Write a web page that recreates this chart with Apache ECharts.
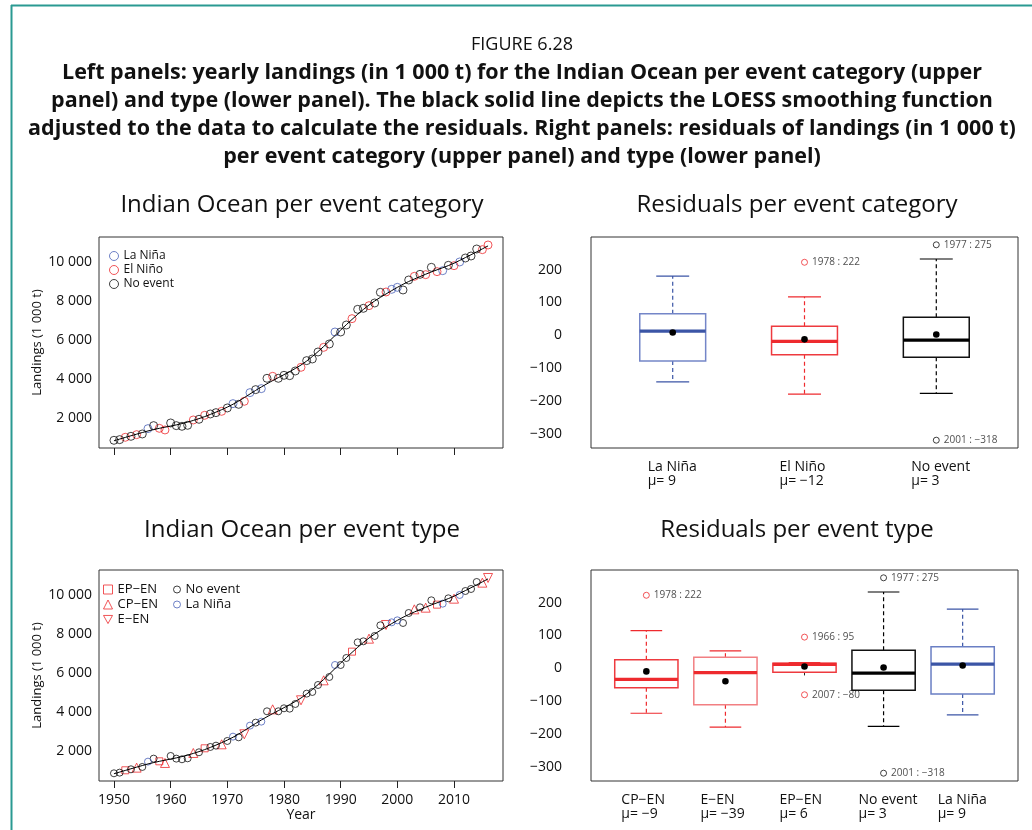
<!DOCTYPE html>
<html>
<head>
<meta charset="utf-8">
<script src="https://cdn.jsdelivr.net/npm/echarts@6/dist/echarts.min.js"></script>
<style>
  html, body { margin: 0; background: #fff; }
  #main { width: 1032px; height: 830px; }
</style>
</head>
<body>
<div id="main"></div>
<script>
// ---- data ----
var years = [1950, 1951, 1952, 1953, 1954, 1955, 1956, 1957, 1958, 1959,
  1960, 1961, 1962, 1963, 1964, 1965, 1966, 1967, 1968, 1969,
  1970, 1971, 1972, 1973, 1974, 1975, 1976, 1977, 1978, 1979,
  1980, 1981, 1982, 1983, 1984, 1985, 1986, 1987, 1988, 1989,
  1990, 1991, 1992, 1993, 1994, 1995, 1996, 1997, 1998, 1999,
  2000, 2001, 2002, 2003, 2004, 2005, 2006, 2007, 2008, 2009,
  2010, 2011, 2012, 2013, 2014, 2015, 2016];
var landings = [855, 889, 1009, 1060, 1145, 1180, 1453, 1607, 1470, 1385,
  1744, 1607, 1573, 1624, 1897, 1932, 2137, 2205, 2273, 2342,
  2513, 2735, 2700, 2855, 3300, 3453, 3504, 4034, 4136, 4034,
  4188, 4170, 4410, 4598, 4940, 5025, 5384, 5623, 5794, 6409,
  6409, 6768, 7093, 7571, 7623, 7759, 7896, 8443, 8460, 8597,
  8699, 8563, 9075, 9263, 9366, 9349, 9725, 9503, 9554, 9828,
  9810, 10000, 10203, 10306, 10665, 10631, 10870];
// L = La Niña, E = El Niño, N = no event
var eventCategory = ['N', 'N', 'E', 'N', 'E', 'N', 'L', 'N', 'E', 'E',
  'N', 'N', 'N', 'N', 'E', 'N', 'E', 'N', 'N', 'E',
  'N', 'L', 'N', 'E', 'L', 'N', 'L', 'N', 'E', 'N',
  'N', 'N', 'N', 'E', 'N', 'N', 'N', 'E', 'N', 'L',
  'N', 'N', 'E', 'N', 'N', 'E', 'N', 'N', 'E', 'L',
  'L', 'N', 'N', 'E', 'N', 'E', 'N', 'E', 'L', 'N',
  'E', 'L', 'N', 'N', 'N', 'E', 'E'];
// EP / CP / E = El Niño type
var eventType = ['N', 'N', 'EP', 'N', 'CP', 'N', 'L', 'N', 'EP', 'CP',
  'N', 'N', 'N', 'N', 'CP', 'N', 'EP', 'N', 'N', 'CP',
  'N', 'L', 'N', 'E', 'L', 'N', 'L', 'N', 'CP', 'N',
  'N', 'N', 'N', 'E', 'N', 'N', 'N', 'CP', 'N', 'L',
  'N', 'N', 'EP', 'N', 'N', 'CP', 'N', 'N', 'E', 'L',
  'L', 'N', 'N', 'CP', 'N', 'CP', 'N', 'EP', 'L', 'N',
  'CP', 'L', 'N', 'N', 'N', 'CP', 'E'];

var yearTicks = [1950, 1960, 1970, 1980, 1990, 2000, 2010];
var landingTicks = [2000, 4000, 6000, 8000, 10000];
var residualTicks = [-300, -200, -100, 0, 100, 200];

// residual boxplots per event category
var catNames = ['La Niña', 'El Niño', 'No event'];
var catLow = [-141, -178, -176];
var catQ1 = [-78, -59, -66];
var catMedian = [13, -18, -14];
var catQ3 = [66, 28, 55];
var catHigh = [180, 117, 232];
var catMean = [9, -12, 3];
var catOutlierGroup = [2, 3, 3];
var catOutlierYear = [1978, 1977, 2001];
var catOutlierValue = [222, 275, -318];

// residual boxplots per event type
var typeNames = ['CP−EN', 'E−EN', 'EP−EN', 'No event', 'La Niña'];
var typeLow = [-136, -178, -12, -176, -141];
var typeQ1 = [-59, -110, -12, -66, -78];
var typeMedian = [-33, -13, 12, -14, 13];
var typeQ3 = [26, 34, 16, 55, 66];
var typeHigh = [115, 53, 18, 232, 180];
var typeMean = [-9, -39, 6, 3, 9];
var typeOutlierGroup = [1, 3, 3, 4, 4];
var typeOutlierYear = [1978, 1966, 2007, 1977, 2001];
var typeOutlierValue = [222, 95, -80, 275, -318];

// ---- styling ----
var BLUE = '#4a62b8';
var RED = '#ee2a2e';
var BLACK = '#111';
var FONT = 'Open Sans';
var CLEAR = 'rgba(255,255,255,0)';
var DOWN_TRIANGLE = 'path://M0,0 L10,0 L5,9 Z';

function minus(v) { return v < 0 ? '\u2212' + Math.abs(v) : '' + v; }

// local linear LOESS (tricube weights)
function loess(xs, ys, span) {
  var n = xs.length, r = Math.ceil(span * n), out = [];
  for (var i = 0; i < n; i++) {
    var d = xs.map(function (x) { return Math.abs(x - xs[i]); });
    var h = d.slice().sort(function (a, b) { return a - b; })[r - 1] * 1.0001;
    var sw = 0, sx = 0, sy = 0, sxx = 0, sxy = 0;
    for (var j = 0; j < n; j++) {
      var u = d[j] / h;
      if (u >= 1) continue;
      var w = Math.pow(1 - u * u * u, 3);
      sw += w; sx += w * xs[j]; sy += w * ys[j];
      sxx += w * xs[j] * xs[j]; sxy += w * xs[j] * ys[j];
    }
    var mx = sx / sw, my = sy / sw;
    var b = (sxy - sw * mx * my) / (sxx - sw * mx * mx);
    out.push([xs[i], my + b * (xs[i] - mx)]);
  }
  return out;
}
var fitted = loess(years, landings, 0.2);

function pick(codes, code) {
  var pts = [];
  for (var i = 0; i < years.length; i++) {
    if (codes[i] === code) pts.push([years[i], landings[i]]);
  }
  return pts;
}

// R-style boxplot drawn with a custom series
function boxRenderer(boxWidth, boxColors, medianColors) {
  return function (params, api) {
    var i = params.dataIndex;
    var x = api.value(0);
    var lw = api.value(1), q1 = api.value(2), md = api.value(3),
        q3 = api.value(4), uw = api.value(5), mn = api.value(6);
    var tl = api.coord([x - boxWidth / 2, q3]);
    var br = api.coord([x + boxWidth / 2, q1]);
    var cx = api.coord([x, md])[0];
    var cap = api.size([boxWidth / 4, 0])[0];
    var yMd = api.coord([x, md])[1];
    var yUw = api.coord([x, uw])[1];
    var yLw = api.coord([x, lw])[1];
    var pMn = api.coord([x, mn]);
    var bc = boxColors[i], mc = medianColors[i];
    return {
      type: 'group',
      children: [
        { type: 'line', shape: { x1: cx, y1: tl[1], x2: cx, y2: yUw },
          style: { stroke: mc, lineWidth: 1.2, lineDash: [4, 3] } },
        { type: 'line', shape: { x1: cx, y1: br[1], x2: cx, y2: yLw },
          style: { stroke: mc, lineWidth: 1.2, lineDash: [4, 3] } },
        { type: 'line', shape: { x1: cx - cap, y1: yUw, x2: cx + cap, y2: yUw },
          style: { stroke: mc, lineWidth: 1.2 } },
        { type: 'line', shape: { x1: cx - cap, y1: yLw, x2: cx + cap, y2: yLw },
          style: { stroke: mc, lineWidth: 1.2 } },
        { type: 'rect', shape: { x: tl[0], y: tl[1], width: br[0] - tl[0], height: br[1] - tl[1] },
          style: { fill: '#fff', stroke: bc, lineWidth: 1.5 } },
        { type: 'line', shape: { x1: tl[0], y1: yMd, x2: br[0], y2: yMd },
          style: { stroke: mc, lineWidth: 3.2 } },
        { type: 'circle', shape: { cx: pMn[0], cy: pMn[1], r: 3.3 },
          style: { fill: '#000' } }
      ]
    };
  };
}

function boxData(low, q1, med, q3, high, mean) {
  return low.map(function (v, i) { return [i + 1, v, q1[i], med[i], q3[i], high[i], mean[i]]; });
}
function outlierData(groups, yrs, vals, colors) {
  return vals.map(function (v, i) {
    return { value: [groups[i], v], name: yrs[i] + ' : ' + minus(v),
      itemStyle: { color: CLEAR, borderColor: colors[groups[i] - 1], borderWidth: 1 } };
  });
}

var dom = document.getElementById('main');
var myChart = echarts.init(dom);

var textBase = { fontFamily: FONT, color: '#111' };

var catColors = [BLUE, RED, BLACK];
var typeColors = [RED, RED, RED, BLACK, BLUE];

function catLabel(names, means) {
  return function (v) {
    var i = Math.round(v) - 1;
    return '{a|' + names[i] + '}\n{a|μ= ' + minus(means[i]) + '}';
  };
}

var leftX = function (grid, showLabels) {
  return {
    gridIndex: grid, type: 'value', min: 1947.36, max: 2018.64,
    axisLine: { show: false }, splitLine: { show: false },
    axisTick: { show: true, length: 7, customValues: yearTicks, lineStyle: { color: '#222' } },
    axisLabel: { show: showLabels, customValues: yearTicks, margin: 12, fontSize: 14, fontFamily: FONT, color: '#111',
      formatter: function (v) { return '' + v; } },
    name: showLabels ? 'Year' : '', nameLocation: 'middle', nameGap: 27,
    nameTextStyle: { fontSize: 14, fontFamily: FONT, color: '#111' }
  };
};
var leftY = function (grid) {
  return {
    gridIndex: grid, type: 'value', min: 460, max: 11280,
    axisLine: { show: false }, splitLine: { show: false }, axisTick: { show: false },
    axisLabel: { customValues: landingTicks, margin: 7, fontSize: 14, fontFamily: FONT, color: '#111',
      formatter: function (v) { return (v / 1000) + ' 000'; } },
    name: 'Landings (1 000 t)', nameLocation: 'middle', nameGap: 55, nameRotate: 90,
    nameTextStyle: { fontSize: 13, fontFamily: FONT, color: '#111' }
  };
};
var rightX = function (grid, n, names, means) {
  var ext = n * 0.04;
  return {
    gridIndex: grid, type: 'value', min: 0.5 - ext, max: n + 0.5 + ext,
    axisLine: { show: false }, splitLine: { show: false },
    axisTick: { show: true, length: 7, customValues: names.map(function (d, i) { return i + 1; }), lineStyle: { color: '#222' } },
    axisLabel: { customValues: names.map(function (d, i) { return i + 1; }), margin: 12,
      formatter: catLabel(names, means),
      rich: { a: { width: 50, align: 'left', fontSize: 14, lineHeight: 14, fontFamily: FONT, color: '#111' } } }
  };
};
var rightY = function (grid) {
  return {
    gridIndex: grid, type: 'value', min: -341.7, max: 298.7,
    axisLine: { show: false }, splitLine: { show: false }, axisTick: { show: false },
    axisLabel: { customValues: residualTicks, margin: 29, fontSize: 14, fontFamily: FONT, color: '#111',
      formatter: function (v) { return minus(v); } }
  };
};

var gridBase = { show: true, borderColor: '#333', borderWidth: 1, backgroundColor: 'transparent' };

var series = [];
// upper left: per event category
[['L', 'La Niña', BLUE], ['E', 'El Niño', RED], ['N', 'No event', BLACK]].forEach(function (c) {
  series.push({ name: c[1], type: 'scatter', xAxisIndex: 0, yAxisIndex: 0, data: pick(eventCategory, c[0]),
    symbol: 'circle', symbolSize: 8, itemStyle: { color: CLEAR, borderColor: c[2], borderWidth: 1 }, silent: true });
});
series.push({ name: 'loess1', type: 'line', xAxisIndex: 0, yAxisIndex: 0, data: fitted, showSymbol: false,
  lineStyle: { color: '#000', width: 1 }, z: 5, silent: true });

// lower left: per event type
[['EP', 'EP−EN', RED, 'rect', 7], ['CP', 'CP−EN', RED, 'triangle', 9],
 ['E', 'E−EN', RED, DOWN_TRIANGLE, 9], ['N', 'No event ', BLACK, 'circle', 7],
 ['L', 'La Niña ', BLUE, 'circle', 7]].forEach(function (c) {
  series.push({ name: c[1], type: 'scatter', xAxisIndex: 2, yAxisIndex: 2, data: pick(eventType, c[0]),
    symbol: c[3], symbolSize: c[4],
    itemStyle: { color: CLEAR, borderColor: c[2], borderWidth: 1 }, silent: true });
});
series.push({ name: 'loess2', type: 'line', xAxisIndex: 2, yAxisIndex: 2, data: fitted, showSymbol: false,
  lineStyle: { color: '#000', width: 1 }, z: 5, silent: true });

// upper right boxplots
series.push({ name: 'box1', type: 'custom', xAxisIndex: 1, yAxisIndex: 1,
  data: boxData(catLow, catQ1, catMedian, catQ3, catHigh, catMean),
  renderItem: boxRenderer(0.5, ['#7486c8', '#ee3a3f', '#111'], ['#3b55a6', RED, '#000']), silent: true });
series.push({ name: 'out1', type: 'scatter', xAxisIndex: 1, yAxisIndex: 1,
  data: outlierData(catOutlierGroup, catOutlierYear, catOutlierValue, catColors),
  symbol: 'circle', symbolSize: 6,
  label: { show: true, position: 'right', distance: 4, formatter: '{b}', fontSize: 10, fontFamily: FONT, color: '#222' },
  silent: true });

// lower right boxplots
series.push({ name: 'box2', type: 'custom', xAxisIndex: 3, yAxisIndex: 3,
  data: boxData(typeLow, typeQ1, typeMedian, typeQ3, typeHigh, typeMean),
  renderItem: boxRenderer(0.8, ['#ee3a3f', '#f27f82', '#ee3a3f', '#111', '#6a7fc4'], [RED, RED, RED, '#000', '#3b55a6']),
  silent: true });
series.push({ name: 'out2', type: 'scatter', xAxisIndex: 3, yAxisIndex: 3,
  data: outlierData(typeOutlierGroup, typeOutlierYear, typeOutlierValue, typeColors),
  symbol: 'circle', symbolSize: 6,
  label: { show: true, position: 'right', distance: 4, formatter: '{b}', fontSize: 10, fontFamily: FONT, color: '#222' },
  silent: true });

var headLines = [
  'Left panels: yearly landings (in 1 000 t) for the Indian Ocean per event category (upper',
  'panel) and type (lower panel). The black solid line depicts the LOESS smoothing function',
  'adjusted to the data to calculate the residuals. Right panels: residuals of landings (in 1 000 t)',
  'per event category (upper panel) and type (lower panel)'
];
var graphics = [
  { type: 'line', shape: { x1: 11.5, y1: 5, x2: 11.5, y2: 830 }, style: { stroke: '#2a9a92', lineWidth: 2 } },
  { type: 'line', shape: { x1: 11, y1: 5.5, x2: 1032, y2: 5.5 }, style: { stroke: '#2a9a92', lineWidth: 2 } },
  { type: 'text', x: 522, y: 45, style: { text: 'FIGURE 6.28', font: '18px "' + FONT + '"', fill: '#111', align: 'center', verticalAlign: 'middle' } }
];
headLines.forEach(function (t, i) {
  graphics.push({ type: 'text', x: 522, y: 73 + i * 28,
    style: { text: t, font: 'bold 21.5px "' + FONT + '"', fill: '#111', align: 'center', verticalAlign: 'middle' } });
});
[['Indian Ocean per event category', 302, 205], ['Residuals per event category', 797, 205],
 ['Indian Ocean per event type', 302, 530], ['Residuals per event type', 797, 530]].forEach(function (t) {
  graphics.push({ type: 'text', x: t[1], y: t[2],
    style: { text: t[0], font: '24px "' + FONT + '"', fill: '#111', align: 'center', verticalAlign: 'middle' } });
});

var legendText = { fontSize: 12, fontFamily: FONT, color: '#111', lineHeight: 12 };
var legendItem = { borderWidth: 1 };

var option = {
  backgroundColor: '#fff',
  animation: false,
  textStyle: textBase,
  grid: [
    Object.assign({ left: 99, top: 237, width: 404, height: 211 }, gridBase),
    Object.assign({ left: 591, top: 237, width: 427, height: 211 }, gridBase),
    Object.assign({ left: 99, top: 570, width: 404, height: 211 }, gridBase),
    Object.assign({ left: 591, top: 570, width: 427, height: 211 }, gridBase)
  ],
  xAxis: [leftX(0, false), rightX(1, 3, catNames, catMean), leftX(2, true), rightX(3, 5, typeNames, typeMean)],
  yAxis: [leftY(0), rightY(1), leftY(2), rightY(3)],
  legend: [
    { data: ['La Niña', 'El Niño', 'No event'], orient: 'vertical', left: 104, top: 245,
      itemWidth: 9, itemHeight: 9, itemGap: 2, itemStyle: legendItem, textStyle: legendText, selectedMode: false },
    { data: ['EP−EN', 'CP−EN', 'E−EN'], orient: 'vertical', left: 98, top: 578,
      itemWidth: 9, itemHeight: 9, itemGap: 2, itemStyle: legendItem,
      textStyle: Object.assign({}, legendText, { fontSize: 13 }), selectedMode: false },
    { data: ['No event ', 'La Niña '], orient: 'vertical', left: 168, top: 578,
      itemWidth: 7, itemHeight: 7, itemGap: 2, itemStyle: legendItem,
      textStyle: Object.assign({}, legendText, { fontSize: 13 }), selectedMode: false }
  ],
  graphic: graphics,
  series: series
};

if (option && typeof option === 'object') {
  myChart.setOption(option);
}
</script>
</body>
</html>
